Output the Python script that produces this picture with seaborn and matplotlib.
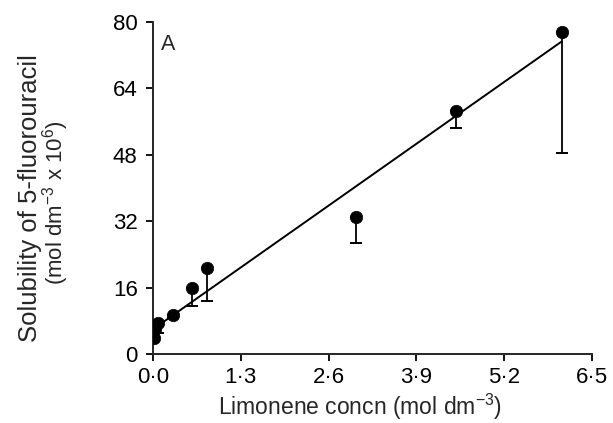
import matplotlib
matplotlib.use("Agg")
import matplotlib.pyplot as plt
import seaborn as sns
import numpy as np
import pandas as pd

# Data
conc = [0.01, 0.03, 0.07, 0.30, 0.58, 0.795, 3.00, 4.49, 6.05]
solubility = [3.8, 6.0, 7.4, 9.3, 15.8, 20.8, 32.9, 58.6, 77.5]
lower_bound = [3.8, 6.0, 5.0, 8.6, 11.5, 12.8, 26.8, 54.4, 48.4]
fit_x = [0.0, 6.05]
fit_intercept = 5.96
fit_slope = 11.46

x_ticks = [0.0, 1.3, 2.6, 3.9, 5.2, 6.5]
y_ticks = [0, 16, 32, 48, 64, 80]

sns.set_style("ticks")
plt.rcParams["font.family"] = ["Liberation Sans", "DejaVu Sans"]
plt.rcParams["mathtext.default"] = "regular"

W, H = 613, 423
fig = plt.figure(figsize=(W / 100, H / 100), dpi=100)
ax = fig.add_axes([153 / W, 1 - 354 / H, (592 - 153) / W, (354 - 22) / H])

df = pd.DataFrame({"conc": conc, "sol": solubility})
fit_df = pd.DataFrame({"x": fit_x,
                       "y": [fit_intercept + fit_slope * v for v in fit_x]})

sns.lineplot(data=fit_df, x="x", y="y", ax=ax, color="black", linewidth=1.4,
             zorder=2)

low = np.array(solubility) - np.array(lower_bound)
ax.errorbar(conc, solubility, yerr=[low, np.zeros_like(low)], fmt="none",
            ecolor="black", elinewidth=1.3, capsize=4.2, capthick=1.4, zorder=3)

sns.scatterplot(data=df, x="conc", y="sol", ax=ax, color="black", s=80,
                edgecolor="black", linewidth=0.5, zorder=4)

ax.set_xlim(0, 6.5)
ax.set_ylim(0, 80)
ax.set_xticks(x_ticks)
ax.set_xticklabels([f"{v:.1f}".replace(".", "\u00b7") for v in x_ticks])
ax.set_yticks(y_ticks)
ax.set_yticklabels([str(v) for v in y_ticks])

for s in ["top", "right"]:
    ax.spines[s].set_visible(False)
for s in ["left", "bottom"]:
    ax.spines[s].set_linewidth(1.4)
ax.tick_params(axis="both", direction="out", length=5, width=1.3,
               labelsize=16, pad=4, colors="black")
ax.tick_params(axis="y", pad=6)

ax.set_xlabel("Limonene concn (mol dm$^{-3}$)", fontsize=16.5, labelpad=3,
              x=(360 - 153) / (592 - 153))
ax.set_ylabel("")

# two-line y label
fig.text(30 / W, 1 - 198 / H, "Solubility of 5-fluorouracil", rotation=90,
         ha="center", va="center", fontsize=18.5)
fig.text(56 / W, 1 - 203 / H, "(mol dm$^{-3}$ x 10$^{6}$)", rotation=90,
         ha="center", va="center", fontsize=16)

ax.text(0.12, 74.5, "A", fontsize=15.5, ha="left", va="center")

fig.savefig("out.png", dpi=100)
